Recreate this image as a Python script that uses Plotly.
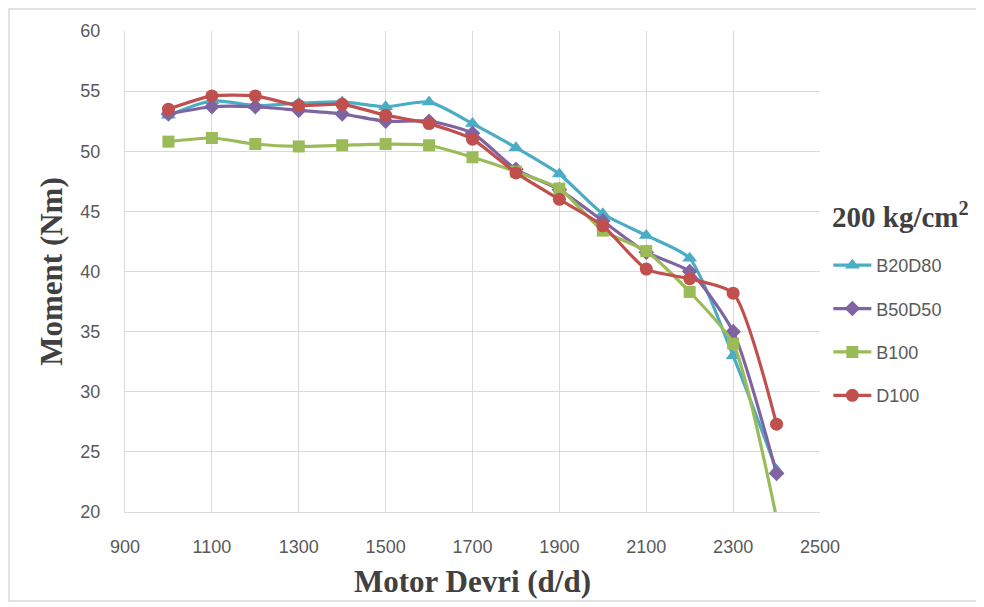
import plotly.graph_objects as go

rpm = [1000, 1100, 1200, 1300, 1400, 1500, 1600, 1700, 1800, 1900, 2000, 2100, 2200, 2300, 2400]
b20d80 = [53.0, 54.2, 53.8, 54.0, 54.1, 53.7, 54.1, 52.3, 50.3, 48.1, 44.8, 43.0, 41.1, 33.0, 23.5]
b50d50 = [53.1, 53.7, 53.7, 53.4, 53.1, 52.5, 52.5, 51.5, 48.5, 46.8, 44.2, 41.6, 40.0, 35.0, 23.2]
b100 = [50.8, 51.1, 50.6, 50.4, 50.5, 50.6, 50.5, 49.5, 48.3, 46.9, 43.4, 41.7, 38.3, 34.0, 19.5]
d100 = [53.5, 54.6, 54.6, 53.8, 53.9, 53.0, 52.3, 51.0, 48.2, 46.0, 43.8, 40.2, 39.4, 38.2, 27.3]

series = [
    ("B20D80", b20d80, "#4BACC6", "triangle-up", 13),
    ("B50D50", b50d50, "#8064A2", "diamond", 12),
    ("B100", b100, "#9BBB59", "square", 12),
    ("D100", d100, "#C0504D", "circle", 13),
]

fig = go.Figure()
for i, (name, vals, col, sym, sz) in enumerate(series):
    fig.add_trace(go.Scatter(
        x=rpm, y=vals, name=name, mode="lines+markers",
        line=dict(color=col, width=3.2, shape="spline", smoothing=0.6),
        marker=dict(color=col, symbol=sym, size=sz),
        legendgroup=str(i),
    ))

grid = "#D9D9D9"
fig.update_layout(
    width=976, height=599,
    margin=dict(l=117, r=164, t=23, b=95),
    paper_bgcolor="white", plot_bgcolor="white",
    xaxis=dict(range=[900, 2500], tickvals=list(range(900, 2501, 200)),
               showgrid=True, gridcolor=grid, gridwidth=1,
               showline=True, linecolor=grid, zeroline=False,
               ticks="", ticklabelstandoff=18,
               tickfont=dict(family="Liberation Sans", size=18, color="#595959"),
               title=dict(text="<b>Motor Devri (d/d)</b>", standoff=14,
                          font=dict(family="Liberation Serif", size=31, color="#404040"))),
    yaxis=dict(range=[20, 60], tickvals=list(range(20, 61, 5)),
               showgrid=True, gridcolor=grid, gridwidth=1,
               showline=True, linecolor=grid, zeroline=False,
               ticks="", ticklabelstandoff=20,
               tickfont=dict(family="Liberation Sans", size=18, color="#595959"),
               title=dict(text="<b>Moment (Nm)</b>", standoff=8,
                          font=dict(family="Liberation Serif", size=31, color="#404040"))),
    legend=dict(x=1.012, y=0.551, xanchor="left", yanchor="top",
                traceorder="grouped", tracegroupgap=17, itemwidth=38,
                font=dict(family="Liberation Sans", size=18, color="#595959"),
                bgcolor="rgba(0,0,0,0)"),
    annotations=[dict(text="<b>200 kg/cm<sup>2</sup></b>", xref="paper", yref="paper",
                      x=1.0144, y=0.6175, xanchor="left", yanchor="middle", showarrow=False,
                      font=dict(family="Liberation Serif", size=29, color="#404040"))],
    shapes=[dict(type="rect", xref="paper", yref="paper",
                 x0=-0.1669, x1=1.2317, y0=-0.185, y1=1.0457,
                 line=dict(color="#D9D9D9", width=1.5))],
)

fig.write_html("out.html")
